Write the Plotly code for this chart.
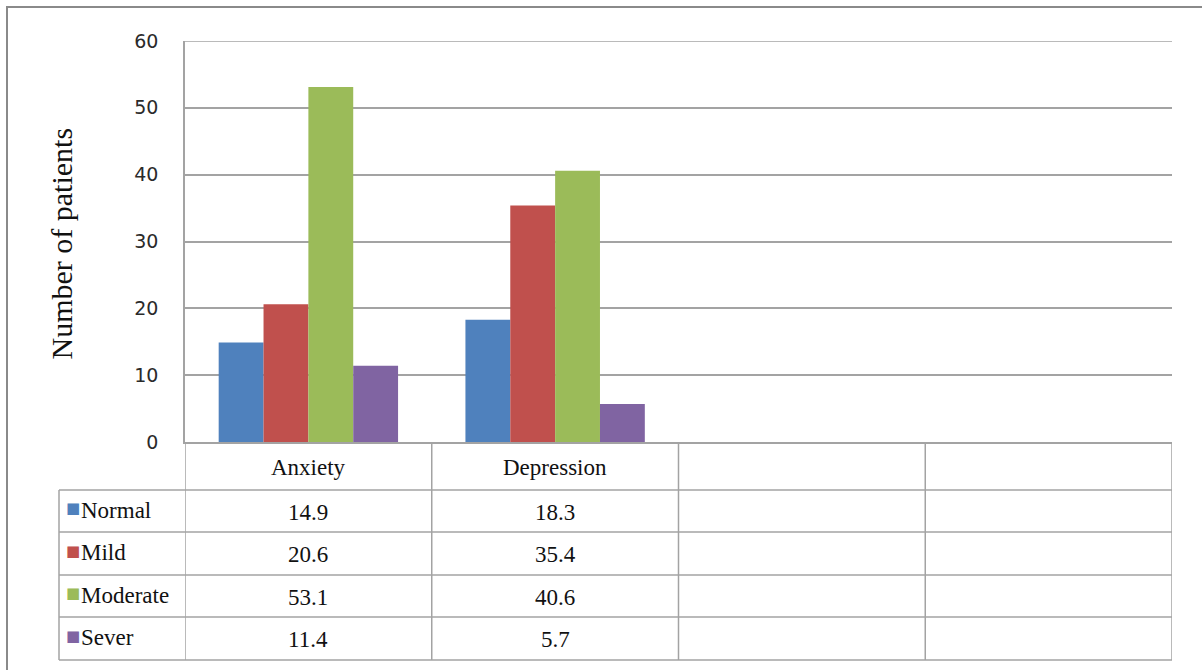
import plotly.graph_objects as go

# Data
categories = ["Anxiety", "Depression", "", ""]
series_names = ["Normal", "Mild", "Moderate", "Sever"]
normal = [14.9, 18.3]
mild = [20.6, 35.4]
moderate = [53.1, 40.6]
sever = [11.4, 5.7]
series_colors = ["#4F81BD", "#C0504D", "#9BBB59", "#8064A2"]
y_ticks = [0, 10, 20, 30, 40, 50, 60]

series_values = [normal, mild, moderate, sever]

# Page geometry (pixels)
W, H = 1202, 670
PL, PR, PT, PB = 185, 1172, 41, 442          # plot area edges
TABLE_LEFT = 59
ROW_EDGES = [442, 490, 532, 575, 617, 660]   # header + 4 data rows
GRID = "#a3a3a3"
SERIF = "Liberation Serif"
TXT = "#111111"


def px_x(px):
    return (px - PL) / (PR - PL)


def px_y(py):
    return (PB - py) / (PB - PT)


fig = go.Figure()
x_idx = list(range(len(normal)))
for name, vals, col in zip(series_names, series_values, series_colors):
    fig.add_trace(go.Bar(
        x=x_idx, y=vals, name=name,
        marker=dict(color=col, line=dict(width=0)),
        showlegend=False,
    ))

shapes = []
annotations = []

# Outer chart frame (runs off the right and bottom edges)
shapes.append(dict(type="rect", xref="paper", yref="paper",
                   x0=px_x(7), x1=px_x(1215), y0=px_y(690), y1=px_y(7),
                   line=dict(color="#8a8a8a", width=2), fillcolor="rgba(0,0,0,0)",
                   layer="below"))

# top gridline at the axis maximum
shapes.append(dict(type="line", xref="paper", yref="y", x0=0, x1=1,
                   y0=y_ticks[-1], y1=y_ticks[-1],
                   line=dict(color=GRID, width=1.5), layer="below"))

# Data table: vertical column boundaries follow the category axis
n_cols = len(categories)
for i in range(n_cols + 1):
    shapes.append(dict(type="line", xref="x", yref="paper",
                       x0=i - 0.5, x1=i - 0.5,
                       y0=px_y(ROW_EDGES[0]), y1=px_y(ROW_EDGES[-1]),
                       line=dict(color=GRID, width=1.5)))
# table left border (series-name column)
shapes.append(dict(type="line", xref="paper", yref="paper",
                   x0=px_x(TABLE_LEFT), x1=px_x(TABLE_LEFT),
                   y0=px_y(ROW_EDGES[1]), y1=px_y(ROW_EDGES[-1]),
                   line=dict(color=GRID, width=1.5)))
# horizontal row lines
for ry in ROW_EDGES[1:]:
    shapes.append(dict(type="line", xref="paper", yref="paper",
                       x0=px_x(TABLE_LEFT), x1=1,
                       y0=px_y(ry), y1=px_y(ry),
                       line=dict(color=GRID, width=1.5)))

# header row: category names
for i, cat in enumerate(categories):
    if cat:
        annotations.append(dict(xref="x", yref="paper", x=i,
                                y=px_y((ROW_EDGES[0] + ROW_EDGES[1]) / 2 + 1),
                                xanchor="center", yanchor="middle",
                                text=cat, showarrow=False,
                                font=dict(family=SERIF, size=23, color=TXT)))

# data rows: legend key, series name, values
for r, (name, vals, col) in enumerate(zip(series_names, series_values, series_colors)):
    ymid = (ROW_EDGES[r + 1] + ROW_EDGES[r + 2]) / 2
    annotations.append(dict(xref="paper", yref="paper", x=px_x(64), y=px_y(ymid - 3),
                            xanchor="left", yanchor="middle", text="■", showarrow=False,
                            font=dict(family="DejaVu Sans", size=15, color=col)))
    annotations.append(dict(xref="paper", yref="paper", x=px_x(79), y=px_y(ymid - 1),
                            xanchor="left", yanchor="middle", text=name, showarrow=False,
                            font=dict(family=SERIF, size=23, color=TXT)))
    for i, v in enumerate(vals):
        annotations.append(dict(xref="x", yref="paper", x=i, y=px_y(ymid + 1),
                                xanchor="center", yanchor="middle",
                                text=f"{v}", showarrow=False,
                                font=dict(family=SERIF, size=23, color=TXT)))

# y-axis title
annotations.append(dict(xref="paper", yref="paper", x=px_x(61), y=px_y(243.5),
                        xanchor="center", yanchor="middle",
                        text="Number of patients", textangle=-90, showarrow=False,
                        font=dict(family=SERIF, size=30, color=TXT)))

fig.update_layout(
    width=W, height=H,
    margin=dict(l=PL, r=W - PR, t=PT, b=H - PB, pad=0),
    paper_bgcolor="white", plot_bgcolor="white",
    barmode="group", bargap=0.273, bargroupgap=0,
    shapes=shapes, annotations=annotations,
    xaxis=dict(range=[-0.5, n_cols - 0.5], showticklabels=False, showgrid=False,
               zeroline=False, showline=True, linecolor=GRID, linewidth=1.5,
               ticks="", fixedrange=True),
    yaxis=dict(range=[0, 60], tickvals=y_ticks, showgrid=True, gridcolor=GRID,
               gridwidth=1.5, zeroline=False, showline=True, linecolor=GRID,
               linewidth=1.5, ticks="", ticklabelstandoff=21, automargin=False,
               tickfont=dict(family="DejaVu Sans", size=19, color="#2a2a2a"),
               fixedrange=True),
)

fig.write_html("out.html")
